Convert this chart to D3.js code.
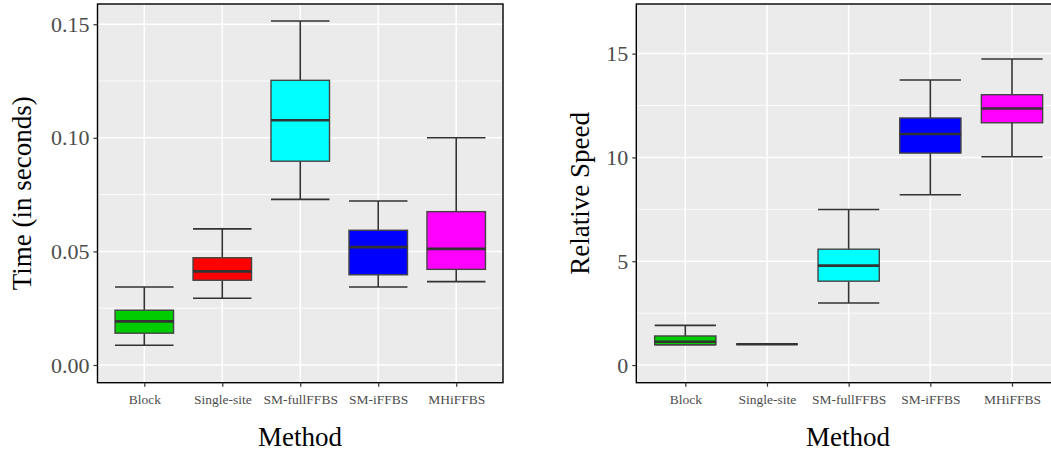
<!DOCTYPE html>
<html>
<head>
<meta charset="utf-8">
<script src="https://cdn.jsdelivr.net/npm/d3@7"></script>
<style>
  body { margin: 0; background: #fff; }
  text { font-family: "Liberation Serif", serif; }
</style>
</head>
<body>
<div id="chart"></div>
<script>
var methods = ["Block", "Single-site", "SM-fullFFBS", "SM-iFFBS", "MHiFFBS"];
var fills = ["#00CD00", "#FF0000", "#00FFFF", "#0000FF", "#FF00FF"];

// time panel (seconds)
var timeLow    = [0.0087, 0.0294, 0.0729, 0.0343, 0.0367];
var timeQ1     = [0.0140, 0.0373, 0.0897, 0.0397, 0.0421];
var timeMedian = [0.0192, 0.0412, 0.1077, 0.0519, 0.0511];
var timeQ3     = [0.0241, 0.0472, 0.1253, 0.0593, 0.0675];
var timeHigh   = [0.0343, 0.0599, 0.1514, 0.0722, 0.1000];
var timeTicks  = [0, 0.05, 0.10, 0.15];

// relative speed panel
var speedLow    = [0.98, 1.0, 2.99, 8.20, 10.03];
var speedQ1     = [0.98, 1.0, 4.04, 10.21, 11.67];
var speedMedian = [1.12, 1.0, 4.79, 11.13, 12.36];
var speedQ3     = [1.40, 1.0, 5.58, 11.90, 13.02];
var speedHigh   = [1.91, 1.0, 7.49, 13.73, 14.74];
var speedTicks  = [0, 5, 10, 15];

var W = 1051, H = 453;
var svg = d3.select("#chart").append("svg")
    .attr("width", W)
    .attr("height", H);

function panel(opts) {
  // ggplot discrete: expand 0.6 units each side
  var step = (opts.right - opts.left) / (methods.length + 0.2);
  var x = d3.scalePoint()
    .domain(methods)
    .range([opts.left + 0.6 * step, opts.right - 0.6 * step]);

  var y = d3.scaleLinear()
    .domain(opts.ydom)
    .range([opts.bottom, opts.top]);

  var g = svg.append("g");

  g.append("rect")
    .attr("x", opts.left).attr("y", opts.top)
    .attr("width", opts.right - opts.left)
    .attr("height", opts.bottom - opts.top)
    .attr("fill", "#EBEBEB");

  // minor grid
  g.selectAll(".minor").data(opts.minor).enter().append("line")
    .attr("x1", opts.left).attr("x2", opts.right)
    .attr("y1", function(d) { return y(d); })
    .attr("y2", function(d) { return y(d); })
    .attr("stroke", "#fff").attr("stroke-width", 0.8);
  // major grid
  g.selectAll(".major").data(opts.ticks).enter().append("line")
    .attr("x1", opts.left).attr("x2", opts.right)
    .attr("y1", function(d) { return y(d); })
    .attr("y2", function(d) { return y(d); })
    .attr("stroke", "#fff").attr("stroke-width", 1.5);
  g.selectAll(".vmajor").data(methods).enter().append("line")
    .attr("x1", function(d) { return x(d); })
    .attr("x2", function(d) { return x(d); })
    .attr("y1", opts.top).attr("y2", opts.bottom)
    .attr("stroke", "#fff").attr("stroke-width", 1.5);

  var bw = 0.75 * step;
  var st = opts.stats;
  methods.forEach(function(m, i) {
    var cx = x(m);
    var bg = g.append("g");
    // whiskers
    bg.append("line")
      .attr("x1", cx).attr("x2", cx)
      .attr("y1", y(st.high[i])).attr("y2", y(st.q3[i]))
      .attr("stroke", "#333").attr("stroke-width", 1.6);
    bg.append("line")
      .attr("x1", cx).attr("x2", cx)
      .attr("y1", y(st.low[i])).attr("y2", y(st.q1[i]))
      .attr("stroke", "#333").attr("stroke-width", 1.6);
    [st.high[i], st.low[i]].forEach(function(v) {
      bg.append("line")
        .attr("x1", cx - bw / 2).attr("x2", cx + bw / 2)
        .attr("y1", y(v)).attr("y2", y(v))
        .attr("stroke", "#333").attr("stroke-width", 1.6);
    });
    bg.append("rect")
      .attr("x", cx - bw / 2)
      .attr("y", y(st.q3[i]))
      .attr("width", bw)
      .attr("height", Math.max(0, y(st.q1[i]) - y(st.q3[i])))
      .attr("fill", fills[i])
      .attr("stroke", "#444").attr("stroke-width", 1.4);
    bg.append("line")
      .attr("x1", cx - bw / 2).attr("x2", cx + bw / 2)
      .attr("y1", y(st.median[i])).attr("y2", y(st.median[i]))
      .attr("stroke", "#333").attr("stroke-width", 2.6);
  });

  // border
  g.append("rect")
    .attr("x", opts.left).attr("y", opts.top)
    .attr("width", opts.right - opts.left)
    .attr("height", opts.bottom - opts.top)
    .attr("fill", "none")
    .attr("stroke", "#000").attr("stroke-width", 1.4);

  // axes
  var yAxis = d3.axisLeft(y)
    .tickValues(opts.ticks)
    .tickFormat(opts.fmt)
    .tickSize(4).tickPadding(4);
  var ya = g.append("g")
    .attr("transform", "translate(" + opts.left + ",0)")
    .call(yAxis);
  ya.select(".domain").remove();
  ya.selectAll("line").attr("stroke", "#333").attr("stroke-width", 1.2);
  ya.selectAll("text")
    .attr("fill", "#4D4D4D")
    .style("font-size", "22px")
    .style("font-family", "Liberation Serif, serif");

  var xAxis = d3.axisBottom(x).tickSize(4).tickPadding(8);
  var xa = g.append("g")
    .attr("transform", "translate(0," + opts.bottom + ")")
    .call(xAxis);
  xa.select(".domain").remove();
  xa.selectAll("line").attr("stroke", "#333").attr("stroke-width", 1.2);
  xa.selectAll("text")
    .attr("fill", "#4D4D4D")
    .style("font-size", "13.5px")
    .style("font-family", "Liberation Serif, serif");

  // titles
  g.append("text")
    .attr("x", opts.xTitleX).attr("y", 446)
    .attr("text-anchor", "middle")
    .style("font-size", "27px")
    .text("Method");
  g.append("text")
    .attr("transform", "translate(" + opts.yTitleX + "," + ((opts.top + opts.bottom) / 2) + ") rotate(-90)")
    .attr("text-anchor", "middle")
    .style("font-size", "27px")
    .text(opts.ytitle);
}

panel({
  left: 97.5, right: 503, top: 4, bottom: 382.7,
  ydom: [-0.0078, 0.1589],
  ticks: timeTicks, minor: [0.025, 0.075, 0.125],
  fmt: d3.format(".2f"),
  stats: { low: timeLow, q1: timeQ1, median: timeMedian, q3: timeQ3, high: timeHigh },
  ytitle: "Time (in seconds)", yTitleX: 31, xTitleX: 300
});

panel({
  left: 636.3, right: 1061, top: 4, bottom: 382.7,
  ydom: [-0.85, 17.39],
  ticks: speedTicks, minor: [2.5, 7.5, 12.5],
  fmt: d3.format("d"),
  stats: { low: speedLow, q1: speedQ1, median: speedMedian, q3: speedQ3, high: speedHigh },
  ytitle: "Relative Speed", yTitleX: 589, xTitleX: 848
});
</script>
</body>
</html>
